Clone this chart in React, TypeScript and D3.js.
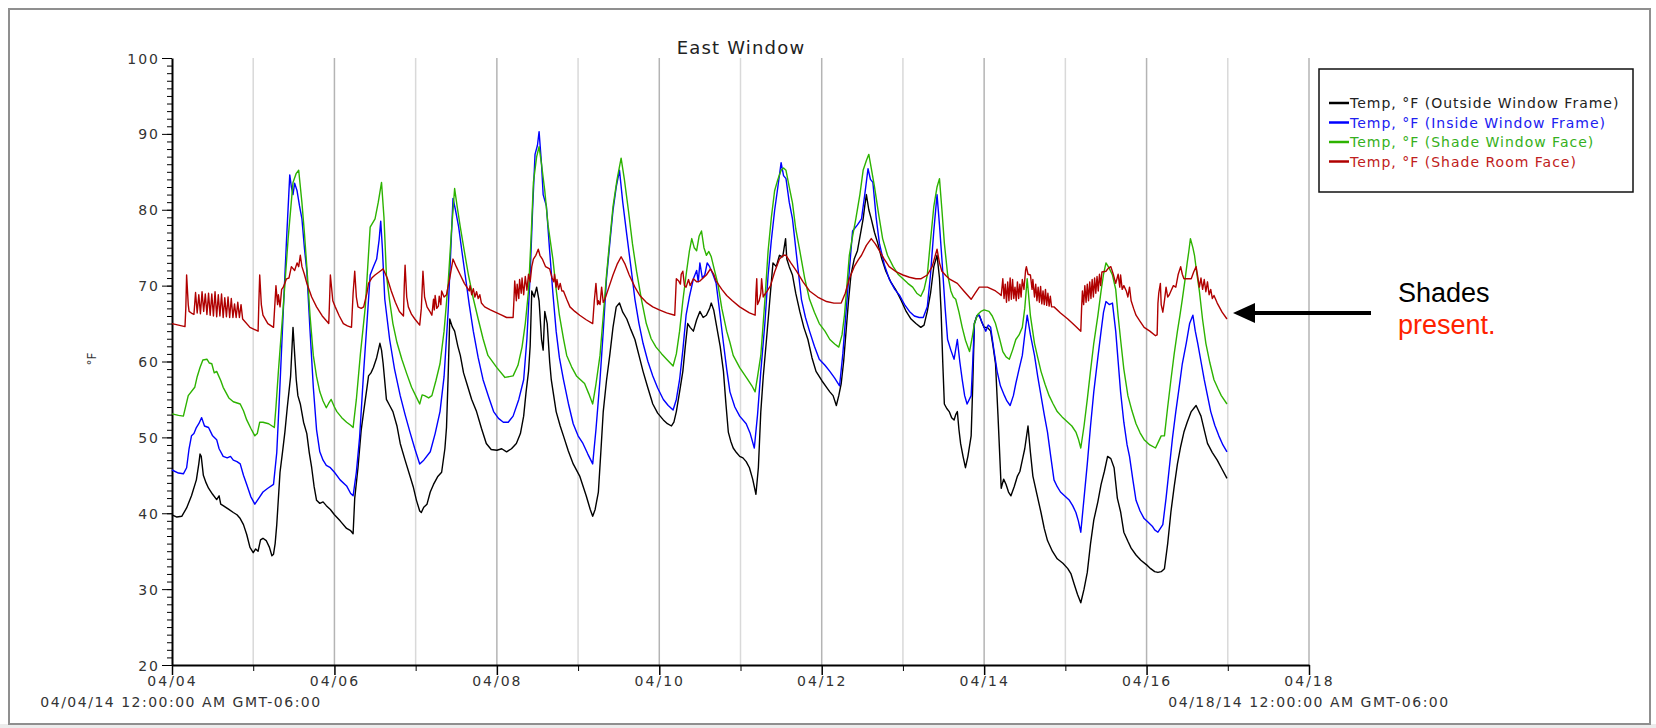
import React, { useEffect, useRef } from 'react'
import { select, scaleUtc, scaleLinear, line, axisLeft, axisBottom, utcFormat, range } from 'd3'

// start of the record, 04/04/14 00:00
const startMs = Date.UTC(2014, 3, 4)
const dayMs = 864e5

const seriesNames = [
  'Temp, °F (Outside Window Frame)',
  'Temp, °F (Inside Window Frame)',
  'Temp, °F (Shade Window Face)',
  'Temp, °F (Shade Room Face)',
]
const seriesColors = ['#000000', '#0000ff', '#2db300', '#b00000']
const legendColors = ['#222222', '#2020f0', '#35b020', '#c02020']

const yMajorTicks = [20, 30, 40, 50, 60, 70, 80, 90, 100]
const xMajorDays = [0, 2, 4, 6, 8, 10, 12, 14]
const xMinorDays = [1, 3, 5, 7, 9, 11, 13]
const edgeLabels = ['04/04/14 12:00:00 AM GMT-06:00', '04/18/14 12:00:00 AM GMT-06:00']

// [day since 04/04, °F]
const outsideFrame: [number, number][] = [
  [0,39.8],[0.06,39.5],[0.12,39.6],[0.18,40.7],[0.24,42.3],[0.30,44.4],[0.33,46.5],[0.345,47.8],[0.36,47.5],[0.386,45],[0.42,44],[0.45,43.3],[0.5,42.5],[0.55,41.8],[0.58,42.3],[0.6,41.2],[0.63,41],[0.7,40.5],[0.755,40.1],[0.8,39.8],[0.84,39.3],[0.88,38.5],[0.92,37.2],[0.96,35.5],[1.0,34.8],[1.03,35.3],[1.06,35],[1.09,36.5],[1.12,36.7],[1.16,36.4],[1.2,35.5],[1.23,34.4],[1.25,34.6],[1.27,36],[1.29,38.5],[1.33,45.4],[1.36,48],[1.39,50.7],[1.42,54],[1.44,56],[1.46,58],[1.49,64.5],[1.51,61],[1.53,57.6],[1.55,55.5],[1.58,54.4],[1.62,52],[1.66,50.5],[1.69,48],[1.72,46],[1.75,43.5],[1.78,41.7],[1.82,41.3],[1.86,41.5],[1.9,41],[1.95,40.5],[2.0,39.8],[2.07,39],[2.15,38],[2.2,37.7],[2.23,37.3],[2.25,42],[2.29,46],[2.33,51],[2.36,53.4],[2.4,56.5],[2.42,58.1],[2.45,58.5],[2.48,59.2],[2.52,60.5],[2.56,62.4],[2.58,61.5],[2.6,59.7],[2.64,55],[2.68,54.2],[2.72,53.4],[2.77,51.5],[2.81,49.2],[2.87,47],[2.93,44.9],[2.97,43.5],[3.01,41.7],[3.05,40.3],[3.07,40.1],[3.1,40.8],[3.14,41.2],[3.18,42.8],[3.22,43.8],[3.27,44.8],[3.32,45.4],[3.36,48.5],[3.38,51.3],[3.4,58],[3.42,65.6],[3.45,64.6],[3.48,64],[3.52,62],[3.55,60.8],[3.59,58.5],[3.63,57.1],[3.69,55],[3.75,53.4],[3.81,51.2],[3.87,49.2],[3.93,48.4],[4.0,48.3],[4.06,48.5],[4.12,48.1],[4.18,48.5],[4.24,49.2],[4.29,50.5],[4.33,52.8],[4.36,56],[4.39,58.7],[4.41,62],[4.43,69.3],[4.46,68.5],[4.49,69.8],[4.52,68],[4.55,62.9],[4.57,61.5],[4.59,66.6],[4.62,65],[4.65,60],[4.67,57.6],[4.7,55.5],[4.73,53.4],[4.78,51.5],[4.82,50.2],[4.88,48.2],[4.94,46.5],[5.02,44.9],[5.1,42.3],[5.15,40.5],[5.18,39.6],[5.21,40.5],[5.25,42.8],[5.28,48],[5.31,53.4],[5.35,57.5],[5.39,60.8],[5.43,64.5],[5.47,67.2],[5.51,67.7],[5.55,66.5],[5.6,65.6],[5.65,64.2],[5.7,62.9],[5.75,60.8],[5.8,58.7],[5.86,56.5],[5.92,54.4],[5.98,53.2],[6.05,52.3],[6.1,51.8],[6.15,51.5],[6.18,52],[6.21,53.4],[6.25,56],[6.29,58.7],[6.32,62],[6.35,65],[6.38,64.5],[6.42,64],[6.46,65.5],[6.5,66.6],[6.54,65.8],[6.58,66.1],[6.62,67],[6.64,67.7],[6.67,66.8],[6.7,65],[6.75,62],[6.79,58.7],[6.82,54.5],[6.85,50.7],[6.88,49.5],[6.91,48.6],[6.95,48],[6.99,47.5],[7.03,47.3],[7.07,46.8],[7.11,46],[7.15,44.5],[7.19,42.5],[7.22,46],[7.25,53.4],[7.28,58],[7.32,62.9],[7.36,68],[7.4,73],[7.44,72.5],[7.48,74],[7.52,73.8],[7.555,76.2],[7.57,73.5],[7.6,72.5],[7.64,71.4],[7.68,69],[7.73,66.6],[7.78,64.5],[7.83,62.9],[7.88,60.5],[7.93,58.7],[8.0,57.5],[8.06,56.6],[8.1,56],[8.14,55.5],[8.18,54.2],[8.21,55.5],[8.24,57.1],[8.27,60],[8.3,64],[8.33,68],[8.36,71.4],[8.4,73.5],[8.44,74.6],[8.48,77],[8.51,78.8],[8.53,80.5],[8.55,82],[8.58,80],[8.61,78.8],[8.65,77],[8.69,75.6],[8.74,73.5],[8.79,71.9],[8.85,70.5],[8.92,69.3],[8.98,68],[9.04,66.6],[9.1,65.6],[9.16,65],[9.22,64.5],[9.26,64.8],[9.3,66.6],[9.34,69],[9.38,72.5],[9.42,74],[9.45,71],[9.47,66.6],[9.49,60],[9.51,54.4],[9.54,53.8],[9.57,53.4],[9.6,52.6],[9.63,52.3],[9.65,53],[9.67,53.4],[9.69,51],[9.71,49.2],[9.74,47.5],[9.77,46],[9.8,47.5],[9.84,50.2],[9.86,57],[9.88,65],[9.91,66],[9.94,66.1],[9.97,65.2],[10.0,64.5],[10.04,64.5],[10.08,64],[10.11,62],[10.14,59.7],[10.17,53],[10.21,43.3],[10.24,44.5],[10.27,43.8],[10.3,42.8],[10.33,42.3],[10.37,43.5],[10.41,44.9],[10.44,45.5],[10.47,47],[10.5,48.5],[10.52,50],[10.54,51.5],[10.57,48],[10.6,44.9],[10.65,42.5],[10.7,40.1],[10.74,38],[10.78,36.4],[10.84,35],[10.9,34],[10.97,33.4],[11.03,32.7],[11.07,32],[11.11,30.6],[11.15,29.3],[11.19,28.2],[11.23,30],[11.27,32.2],[11.31,36],[11.35,39.1],[11.4,41.5],[11.44,43.8],[11.48,45.5],[11.52,47.5],[11.56,47.2],[11.6,46],[11.64,42],[11.68,40.2],[11.72,37.5],[11.77,36.3],[11.81,35.4],[11.87,34.5],[11.93,33.8],[12.0,33.2],[12.05,32.7],[12.1,32.3],[12.14,32.2],[12.18,32.3],[12.22,32.7],[12.26,36],[12.3,40.2],[12.34,43.5],[12.38,46.5],[12.42,48.8],[12.46,50.7],[12.5,52],[12.55,53.4],[12.58,53.8],[12.61,54.2],[12.64,53.5],[12.67,52.8],[12.71,51],[12.75,49.2],[12.81,48],[12.87,47],[12.93,45.8],[12.99,44.6],
]

const insideFrame: [number, number][] = [
  [0,45.7],[0.08,45.3],[0.14,45.2],[0.18,46],[0.21,48.5],[0.24,50.2],[0.27,50.5],[0.30,51.3],[0.33,51.8],[0.365,52.6],[0.4,51.5],[0.45,51.3],[0.5,50.2],[0.55,49.7],[0.58,48.5],[0.63,47.5],[0.68,47.3],[0.72,47.5],[0.755,47],[0.8,46.8],[0.84,46.5],[0.88,45],[0.92,43.8],[0.97,42.2],[1.02,41.2],[1.07,42],[1.12,42.8],[1.18,43.3],[1.25,43.8],[1.29,48],[1.33,57],[1.37,66.6],[1.41,76],[1.45,84.6],[1.47,83],[1.49,82],[1.51,83.5],[1.54,82.5],[1.57,80.5],[1.60,78.8],[1.63,75],[1.66,71.9],[1.70,64],[1.74,56.6],[1.78,51],[1.82,48.1],[1.86,47],[1.9,46.3],[1.95,46],[2.0,45.4],[2.07,44.4],[2.15,43.6],[2.2,42.6],[2.23,42.3],[2.27,45.4],[2.31,50],[2.36,58.7],[2.40,65],[2.44,71.4],[2.48,72.5],[2.52,73.5],[2.55,76],[2.57,78.5],[2.59,75],[2.62,68.2],[2.68,62.9],[2.74,59],[2.81,55.5],[2.87,53],[2.93,50.7],[2.99,48.5],[3.05,46.5],[3.1,47],[3.18,48.1],[3.24,50.5],[3.3,53.4],[3.35,58],[3.4,66.6],[3.43,74],[3.46,81.5],[3.49,80],[3.53,77.7],[3.57,74.5],[3.61,71.4],[3.66,67.5],[3.71,64],[3.77,60.5],[3.83,57.6],[3.9,55.3],[3.96,53.4],[4.02,52.5],[4.08,52],[4.14,52],[4.2,52.8],[4.27,55],[4.33,57.6],[4.37,63],[4.41,71.4],[4.44,80],[4.47,87.3],[4.5,88.5],[4.52,90.3],[4.55,86],[4.57,82],[4.61,80.5],[4.65,74.6],[4.69,69],[4.73,64],[4.77,60.5],[4.82,57.6],[4.88,54.5],[4.94,51.8],[5.0,50.2],[5.06,49.2],[5.12,47.8],[5.18,46.5],[5.22,51],[5.27,57.6],[5.31,64],[5.35,70.9],[5.39,75.5],[5.43,79.9],[5.47,83],[5.51,85.2],[5.55,81],[5.6,76.7],[5.65,72.5],[5.7,68.2],[5.75,65],[5.8,62.4],[5.86,60],[5.92,58.1],[5.98,56.5],[6.05,55],[6.11,54.2],[6.17,53.6],[6.21,55],[6.25,57.6],[6.29,61.5],[6.33,66.1],[6.37,68.5],[6.42,70.9],[6.46,72],[6.48,70.5],[6.5,73],[6.53,71],[6.56,71.4],[6.59,73],[6.62,72.5],[6.66,71.5],[6.7,70.3],[6.75,66],[6.79,62.4],[6.83,59],[6.87,56],[6.93,54],[6.99,52.8],[7.07,51.8],[7.12,50.5],[7.17,48.6],[7.21,53],[7.25,58.7],[7.3,65],[7.34,71.4],[7.38,76],[7.42,79.9],[7.46,83],[7.5,86.2],[7.53,84.5],[7.56,84.1],[7.6,81],[7.64,78.8],[7.7,73],[7.75,68.2],[7.8,65.8],[7.85,64],[7.91,62],[7.97,60.3],[8.04,59.5],[8.1,58.7],[8.16,57.8],[8.22,56.8],[8.26,61],[8.3,66.6],[8.34,72],[8.38,77.2],[8.44,78],[8.49,78.8],[8.53,82],[8.57,85.4],[8.6,84],[8.63,83.6],[8.67,79],[8.71,75.6],[8.77,72.8],[8.83,70.9],[8.9,69.5],[8.96,68.7],[9.02,67.5],[9.08,66.6],[9.14,66],[9.2,65.8],[9.25,65.8],[9.3,67.2],[9.34,71.5],[9.38,77.2],[9.42,82],[9.45,78],[9.48,73.5],[9.52,67],[9.55,62.9],[9.59,61.5],[9.63,60.3],[9.67,62.9],[9.7,60],[9.73,57.6],[9.76,55.5],[9.79,54.4],[9.84,55.5],[9.86,60],[9.88,65],[9.91,66],[9.94,66.1],[9.98,65],[10.02,64],[10.05,64.8],[10.08,64.5],[10.12,61.5],[10.16,58.7],[10.2,56.8],[10.25,55.5],[10.28,54.8],[10.32,54.2],[10.36,55.5],[10.39,57.1],[10.43,59],[10.47,60.8],[10.5,63.5],[10.53,66.1],[10.57,63.5],[10.62,60.8],[10.66,58],[10.7,55.5],[10.74,53],[10.78,50.7],[10.82,47.5],[10.86,44.4],[10.9,43.5],[10.94,42.8],[11.0,42.2],[11.05,41.7],[11.09,41],[11.13,40.1],[11.16,39],[11.19,37.5],[11.23,42],[11.27,46.5],[11.31,51.5],[11.35,56],[11.4,60.5],[11.44,64],[11.47,66.5],[11.5,67.9],[11.54,67.5],[11.58,67.7],[11.62,64],[11.65,60],[11.68,56],[11.72,52],[11.76,49],[11.79,47.5],[11.83,44.5],[11.87,41.7],[11.92,40.3],[11.97,39.3],[12.02,38.8],[12.07,38.3],[12.1,37.8],[12.14,37.5],[12.17,38],[12.2,38.5],[12.24,42],[12.28,46],[12.32,50],[12.36,53.4],[12.4,56.5],[12.44,59.7],[12.49,62.5],[12.53,65],[12.57,66.1],[12.6,64],[12.63,62.4],[12.67,60],[12.71,57.6],[12.75,55.5],[12.79,53.4],[12.84,51.6],[12.89,50.2],[12.94,49],[12.99,48.1],
]

const shadeWindowFace: [number, number][] = [
  [0,53.1],[0.08,52.9],[0.14,52.8],[0.2,55.5],[0.28,56.6],[0.31,58],[0.345,59.2],[0.38,60.2],[0.43,60.3],[0.46,59.8],[0.49,59.7],[0.52,58.5],[0.55,58.7],[0.6,57.5],[0.63,56.6],[0.7,55.2],[0.755,54.7],[0.84,54.4],[0.88,53.5],[0.92,52.3],[0.97,51.2],[1.02,50.2],[1.05,50.5],[1.08,52],[1.12,52],[1.19,51.8],[1.26,51.3],[1.28,54],[1.31,58.7],[1.37,67.2],[1.43,76.2],[1.49,83.6],[1.53,84.8],[1.56,85.2],[1.6,80.9],[1.63,77],[1.66,72.5],[1.7,66],[1.74,60.8],[1.78,58],[1.82,56],[1.86,54.8],[1.9,53.9],[1.93,54.5],[1.96,55],[2.0,54],[2.03,53.4],[2.09,52.6],[2.15,52],[2.2,51.6],[2.23,51.3],[2.27,55],[2.32,61],[2.38,67.2],[2.44,77.7],[2.5,78.8],[2.54,81],[2.58,83.6],[2.61,79],[2.64,71.4],[2.68,68],[2.72,65],[2.77,62.5],[2.83,60.3],[2.89,58.4],[2.95,56.6],[3.0,55.5],[3.05,54.4],[3.08,55.6],[3.11,55.5],[3.16,55.2],[3.2,55.5],[3.25,57.5],[3.3,59.7],[3.35,64],[3.4,70.3],[3.44,77],[3.48,82.8],[3.51,80.5],[3.55,77.7],[3.6,74.5],[3.65,71.4],[3.71,68.3],[3.77,65.6],[3.83,63],[3.89,60.8],[4.0,59.2],[4.1,57.9],[4.2,58.1],[4.26,59.5],[4.31,61.9],[4.35,65],[4.39,69.3],[4.42,76],[4.45,83.6],[4.49,87],[4.52,88.3],[4.55,86],[4.59,82.5],[4.63,78],[4.69,73.5],[4.73,69.5],[4.77,66.1],[4.82,63],[4.86,60.8],[4.92,59.3],[4.98,58.1],[5.08,57.1],[5.13,55.8],[5.18,54.4],[5.22,57],[5.27,60.8],[5.31,66],[5.35,71.4],[5.39,76],[5.43,80.4],[5.48,84],[5.53,86.8],[5.57,84],[5.62,79.9],[5.67,75.5],[5.72,71.9],[5.78,68.2],[5.84,65],[5.9,63],[5.96,61.9],[6.03,61],[6.09,60.3],[6.17,59.4],[6.21,61],[6.25,64],[6.29,68],[6.33,71.4],[6.37,74.5],[6.4,76.2],[6.43,75],[6.46,74.6],[6.49,76.5],[6.52,77.2],[6.55,75],[6.58,74],[6.61,74.5],[6.64,73.8],[6.68,72],[6.72,70.3],[6.77,67],[6.83,64],[6.87,62.5],[6.91,60.8],[6.99,59.2],[7.09,57.6],[7.14,56.8],[7.18,56],[7.21,58],[7.25,60.8],[7.3,68],[7.34,74.6],[7.38,79],[7.42,82.5],[7.46,84],[7.5,85.2],[7.53,85.5],[7.56,85.2],[7.6,83],[7.64,80.9],[7.68,77.5],[7.73,74.6],[7.79,71],[7.85,68.2],[7.91,66.5],[7.97,65],[8.04,64],[8.1,62.9],[8.16,62.3],[8.21,61.9],[8.25,63.5],[8.28,66.1],[8.31,70],[8.34,74],[8.38,76.5],[8.42,78.8],[8.47,82],[8.51,85.2],[8.55,86.5],[8.58,87.3],[8.61,85.5],[8.65,83],[8.7,79.5],[8.75,76.2],[8.81,74],[8.88,72.5],[8.94,71.5],[9.0,70.9],[9.06,70.3],[9.12,69.8],[9.17,69],[9.22,68.6],[9.26,69.5],[9.3,71.4],[9.34,76],[9.38,80.4],[9.42,83],[9.45,84.1],[9.48,80],[9.51,75.6],[9.55,71.5],[9.59,69.3],[9.62,68.5],[9.65,68.2],[9.69,66.5],[9.73,64.5],[9.77,62.8],[9.82,61.3],[9.85,63],[9.88,65],[9.92,66.2],[9.96,66.6],[10.0,66.8],[10.06,66.6],[10.1,66],[10.14,65],[10.19,63],[10.23,61.3],[10.27,60.6],[10.31,60.3],[10.35,61.5],[10.39,62.9],[10.43,63.5],[10.47,64.5],[10.5,67],[10.53,70.9],[10.57,66],[10.62,62.4],[10.66,60.5],[10.7,58.7],[10.75,57],[10.8,55.5],[10.85,54.4],[10.9,53.4],[10.96,52.7],[11.03,52],[11.08,51.5],[11.13,50.7],[11.16,49.8],[11.19,48.6],[11.23,51.5],[11.27,55],[11.31,58.8],[11.35,62.4],[11.4,66],[11.44,69.3],[11.47,71.5],[11.5,73],[11.54,72.3],[11.58,71.4],[11.62,69.5],[11.65,66],[11.68,62.9],[11.72,59],[11.77,55.5],[11.82,53.5],[11.87,51.8],[11.92,50.6],[11.97,49.7],[12.04,49],[12.11,48.6],[12.15,49.5],[12.18,50.2],[12.22,50.2],[12.26,54],[12.3,57.6],[12.34,61],[12.38,64],[12.41,66],[12.44,68.2],[12.47,70.5],[12.5,73],[12.52,74.5],[12.54,76.2],[12.57,75],[12.59,74],[12.62,71.5],[12.65,69.3],[12.69,65.5],[12.73,62.4],[12.78,59.8],[12.83,57.6],[12.88,56.4],[12.92,55.5],[12.99,54.4],
]

const shadeRoomFace: [number, number][] = [
  [0,65],[0.08,64.8],[0.16,64.6],[0.17,67],[0.18,71.4],[0.2,67.5],[0.21,66.6],[0.25,66.3],[0.27,66.2],
  [0.29,69.1],[0.31,66.4],[0.33,68.8],[0.35,66.3],[0.37,69.2],[0.39,66.6],[0.41,68.9],[0.43,66.2],[0.45,69],[0.47,66.1],[0.49,68.9],[0.51,66],[0.53,69.2],[0.55,65.9],[0.57,68.8],[0.59,66],[0.61,68.9],[0.63,65.8],[0.65,68.4],[0.67,65.9],[0.69,68.5],[0.71,65.8],[0.73,68.3],[0.75,65.8],[0.77,67.6],[0.79,65.8],[0.81,67.8],[0.83,65.8],[0.85,67.5],[0.87,65.6],
  [0.96,64.5],[1.06,64],[1.07,68],[1.08,71.4],[1.1,67.5],[1.12,66.1],[1.18,65],[1.25,64.5],[1.28,70],[1.3,67.5],[1.31,68.8],[1.33,67.2],[1.35,69.5],[1.37,69.8],[1.41,70.9],[1.44,71],[1.47,72.5],[1.51,72],[1.54,73],[1.56,72.5],[1.58,74],[1.6,72.5],[1.63,71.5],[1.66,70.3],[1.72,68.5],[1.78,67.2],[1.85,66],[1.93,65],[1.94,68],[1.95,71.4],[1.98,68],[2.01,67.2],[2.06,66],[2.11,65],[2.16,64.7],[2.21,64.5],[2.23,69],[2.25,71.9],[2.27,68.5],[2.29,67.2],[2.33,67],[2.36,67.2],[2.4,69],[2.42,70.3],[2.46,71],[2.5,71.4],[2.55,71.8],[2.6,72.2],[2.65,71],[2.7,69.3],[2.75,67.8],[2.8,66.6],[2.85,66],[2.86,70],[2.87,72.7],[2.89,68.5],[2.91,67.2],[2.95,66.2],[2.99,65.6],[3.05,64.8],[3.07,67],[3.09,71.9],[3.11,68.5],[3.14,67.2],[3.18,66.5],[3.2,66.1],[3.22,68.2],[3.23,66.8],[3.24,68.7],[3.26,67],[3.28,67.3],[3.29,68.6],[3.31,67.5],[3.32,69.3],[3.35,68.5],[3.38,68.8],[3.42,71],[3.46,73.5],[3.5,72.5],[3.55,71.4],[3.6,70.3],[3.63,69.8],[3.66,69.3],[3.67,70],[3.69,68.8],[3.71,69.6],[3.73,68.5],[3.75,69.2],[3.77,68.3],[3.79,68.8],[3.81,67.7],[3.85,67.2],[3.92,66.8],[4.0,66.4],[4.06,66.1],[4.12,65.8],[4.2,65.8],
  [4.21,68],[4.22,70.6],[4.24,68],[4.25,70.2],[4.27,68.3],[4.28,70.8],[4.3,69],[4.31,71],[4.33,68.8],[4.35,71.2],[4.37,69.4],[4.39,71.5],[4.41,70.5],[4.43,72.5],[4.45,73.5],[4.48,74],[4.51,74.8],[4.53,74],[4.56,73.5],[4.6,72.5],[4.65,72.2],[4.68,71],[4.7,70.5],[4.71,71.5],[4.73,69.8],[4.74,70.8],[4.76,69.5],[4.78,70.3],[4.8,69.3],[4.82,69.3],[4.86,68.2],[4.9,67.2],[4.96,66.6],[5.02,66.1],[5.1,65.5],[5.18,65],[5.2,68],[5.22,70.3],[5.24,67.5],[5.25,68],[5.27,67.5],[5.29,69.8],[5.31,67.8],[5.33,68.2],[5.38,69.8],[5.43,71.4],[5.48,72.8],[5.53,73.8],[5.58,72.8],[5.63,71.4],[5.7,69.8],[5.76,68.7],[5.84,67.8],[5.92,67.2],[6.0,66.8],[6.09,66.4],[6.19,66.1],[6.2,68.5],[6.21,70.9],[6.24,70.6],[6.26,70.2],[6.27,71.5],[6.29,71.9],[6.31,70],[6.33,69.8],[6.36,70.8],[6.38,70],[6.42,70.9],[6.46,70.5],[6.5,70.6],[6.54,71],[6.58,71.4],[6.63,72.2],[6.67,71.5],[6.7,70.6],[6.77,69.5],[6.83,68.7],[6.9,68],[6.99,67.2],[7.05,66.8],[7.11,66.4],[7.18,66.1],[7.19,69],[7.2,70.9],[7.21,67.5],[7.23,68],[7.25,69],[7.26,70.9],[7.28,68.5],[7.29,68.7],[7.33,69.3],[7.37,70],[7.42,71.8],[7.48,73.5],[7.53,74],[7.56,74],[7.62,73],[7.69,71.9],[7.77,70.5],[7.85,69.3],[7.95,68.5],[8.06,67.9],[8.15,67.7],[8.24,67.7],[8.29,69],[8.34,70.9],[8.4,72.5],[8.45,73.4],[8.49,74],[8.55,75.3],[8.61,76.2],[8.66,75.5],[8.71,74.6],[8.77,73.5],[8.83,72.5],[8.92,71.8],[9.0,71.4],[9.08,71.1],[9.16,70.9],[9.22,70.9],[9.3,71.4],[9.36,72.5],[9.42,74.8],[9.45,73],[9.48,71.9],[9.53,71.3],[9.57,70.9],[9.62,70.6],[9.67,70.3],[9.75,69.3],[9.84,68.2],[9.89,69],[9.94,69.8],[10.0,69.8],[10.04,69.8],[10.1,69.5],[10.14,69.3],[10.19,68.9],[10.21,68.7],
  [10.23,70.9],[10.245,68.3],[10.26,70.2],[10.275,67.8],[10.29,70.5],[10.305,68],[10.32,71],[10.335,68.2],[10.35,70.8],[10.365,68.3],[10.38,69.8],[10.395,68],[10.41,70.5],[10.425,68.3],[10.44,70.2],[10.455,68.5],[10.47,70.8],[10.49,69.5],[10.51,72],[10.52,72.5],[10.54,71.5],[10.57,71.4],[10.59,69.5],[10.6,70.8],[10.62,68.5],[10.635,70.2],[10.65,68],[10.665,69.8],[10.68,67.8],[10.695,69.9],[10.71,67.6],[10.725,69.3],[10.74,67.5],[10.755,69.5],[10.77,67.4],[10.785,69],[10.8,67.3],[10.815,68.6],[10.83,67.2],[10.86,67.2],[10.94,66.4],[11.03,65.6],[11.11,64.8],[11.19,64],
  [11.2,67],[11.21,69.3],[11.225,67.5],[11.24,70],[11.255,67.8],[11.27,70.2],[11.285,68],[11.3,70.5],[11.315,68.3],[11.33,70.8],[11.345,68.5],[11.36,71],[11.375,69],[11.39,71.2],[11.405,69.3],[11.42,71.5],[11.435,70],[11.45,71.8],[11.5,71.9],[11.53,72.3],[11.56,72.5],[11.59,71.5],[11.62,70.3],[11.65,71.5],[11.67,69.8],[11.68,71.4],[11.7,69.5],[11.72,70],[11.75,69.3],[11.77,68.5],[11.79,69.8],[11.81,68],[11.84,67],[11.87,66.1],[11.92,65.3],[11.97,64.5],[12.04,64],[12.11,63.4],[12.13,63.5],
  [12.14,67.7],[12.15,69],[12.17,70.3],[12.18,67.5],[12.2,66.5],[12.22,68],[12.24,69.8],[12.26,68.5],[12.28,68.8],[12.3,69.3],[12.33,70],[12.36,69.8],[12.39,71.5],[12.42,72.5],[12.44,71.5],[12.46,70.9],[12.5,70.9],[12.55,70.9],[12.58,71.8],[12.61,72.5],[12.63,71.2],[12.65,69.8],[12.67,71],[12.69,69.5],[12.71,70.8],[12.73,69.2],[12.75,70.5],[12.77,68.8],[12.79,69.5],[12.81,68.3],[12.83,68.7],[12.87,67.7],[12.93,66.5],[12.99,65.6],
]

const allSeries = [outsideFrame, insideFrame, shadeWindowFace, shadeRoomFace]

const W = 1656
const H = 728
const plot = { left: 172, right: 1309, top: 58, bottom: 665 }
const axisFont = '"DejaVu Sans", sans-serif'

function EastWindowChart() {
  const ref = useRef<SVGSVGElement>(null)

  useEffect(() => {
    const svg = select(ref.current)
    svg.selectAll('*').remove()

    const toDate = (d: number) => new Date(startMs + d * dayMs)

    const x = scaleUtc()
      .domain([toDate(0), toDate(14)])
      .range([plot.left, plot.right])
    const y = scaleLinear().domain([20, 100]).range([plot.bottom, plot.top])

    // window frame
    svg.append('rect')
      .attr('x', 0).attr('y', 724).attr('width', W).attr('height', 4)
      .attr('fill', '#ececec')
    svg.append('rect')
      .attr('x', 9).attr('y', 9).attr('width', 1641).attr('height', 715)
      .attr('fill', '#fff').attr('stroke', '#8f8f8f').attr('stroke-width', 2)

    // day gridlines
    svg.append('g')
      .selectAll('line')
      .data(range(1, 15))
      .join('line')
      .attr('x1', d => x(toDate(d))).attr('x2', d => x(toDate(d)))
      .attr('y1', plot.top).attr('y2', plot.bottom)
      .attr('stroke', d => (d % 2 === 0 ? '#b4b4b4' : '#d9d9d9'))
      .attr('stroke-width', 1.5)

    // title
    svg.append('text')
      .attr('x', 741).attr('y', 54)
      .attr('text-anchor', 'middle')
      .style('font-family', axisFont).style('font-size', '18px').style('letter-spacing', '1.2px')
      .attr('fill', '#222')
      .text('East Window')

    // y axis
    svg.append('g')
      .attr('transform', `translate(${plot.left},0)`)
      .call(axisLeft(y).tickValues(range(20, 101, 1)).tickSize(5).tickSizeOuter(0).tickFormat(() => ''))
      .call(g => g.select('.domain').remove())
    const yAxis = svg.append('g')
      .attr('transform', `translate(${plot.left},0)`)
      .call(axisLeft(y).tickValues(yMajorTicks).tickSize(10).tickSizeOuter(0).tickPadding(2))
    yAxis.select('.domain').attr('stroke-width', 2)
    yAxis.selectAll('text')
      .style('font-family', axisFont).style('font-size', '14px').style('letter-spacing', '2px')
      .attr('fill', '#333').attr('dy', '0.36em')

    svg.append('text')
      .attr('transform', 'translate(96,359) rotate(-90)')
      .attr('text-anchor', 'middle')
      .style('font-family', axisFont).style('font-size', '12px')
      .attr('fill', '#333')
      .text('°F')

    // x axis
    svg.append('g')
      .attr('transform', `translate(0,${plot.bottom})`)
      .call(axisBottom(x).tickValues(xMinorDays.map(toDate)).tickSize(6).tickSizeOuter(0).tickFormat(() => ''))
      .call(g => g.select('.domain').remove())
    const xAxis = svg.append('g')
      .attr('transform', `translate(0,${plot.bottom})`)
      .call(axisBottom(x).tickValues(xMajorDays.map(toDate)).tickSize(10).tickSizeOuter(0)
        .tickFormat(d => utcFormat('%m/%d')(d as Date)).tickPadding(1))
    xAxis.select('.domain').attr('stroke-width', 2)
    xAxis.selectAll('.tick line').attr('stroke-width', 1.5)
    xAxis.selectAll('text')
      .style('font-family', axisFont).style('font-size', '14px').style('letter-spacing', '2px')
      .attr('fill', '#333')

    // first/last timestamps; the left one is nudged in from the frame edge
    svg.append('g')
      .selectAll('text')
      .data(edgeLabels)
      .join('text')
      .attr('x', (d, i) => (i === 0 ? x(toDate(0)) + 9 : x(toDate(14))))
      .attr('y', 707)
      .attr('text-anchor', 'middle')
      .style('font-family', axisFont).style('font-size', '14px').style('letter-spacing', '1.5px')
      .attr('fill', '#333')
      .text(d => d)

    // series
    const pathGen = line<[number, number]>()
      .x(d => x(toDate(d[0])))
      .y(d => y(d[1]))
    svg.append('g')
      .selectAll('path')
      .data(allSeries)
      .join('path')
      .attr('d', d => pathGen(d))
      .attr('fill', 'none')
      .attr('stroke', (d, i) => seriesColors[i])
      .attr('stroke-width', 1.4)
      .attr('stroke-linejoin', 'round')

    // legend
    const legend = svg.append('g')
    legend.append('rect')
      .attr('x', 1319).attr('y', 69).attr('width', 314).attr('height', 123)
      .attr('fill', '#fff').attr('stroke', '#111').attr('stroke-width', 1.5)
    const items = legend.selectAll('g.item')
      .data(seriesNames)
      .join('g')
      .attr('class', 'item')
      .attr('transform', (d, i) => `translate(1329,${102 + i * 19.5})`)
    items.append('line')
      .attr('x1', 0).attr('x2', 20).attr('y1', 1).attr('y2', 1)
      .attr('stroke', (d, i) => seriesColors[i]).attr('stroke-width', 2.5)
    items.append('text')
      .attr('x', 21).attr('y', 6)
      .style('font-family', axisFont).style('font-size', '14px').style('letter-spacing', '1px')
      .attr('fill', (d, i) => legendColors[i])
      .text(d => d)

    // annotation
    svg.append('line')
      .attr('x1', 1250).attr('x2', 1371).attr('y1', 313).attr('y2', 313)
      .attr('stroke', '#000').attr('stroke-width', 4)
    svg.append('path')
      .attr('d', 'M1233,313 L1255,303 L1255,323 Z')
      .attr('fill', '#000')
    svg.append('text')
      .attr('x', 1398).attr('y', 302)
      .style('font-family', '"Liberation Sans", Arial, sans-serif').style('font-size', '27px')
      .attr('fill', '#000')
      .text('Shades')
    svg.append('text')
      .attr('x', 1398).attr('y', 334)
      .style('font-family', '"Liberation Sans", Arial, sans-serif').style('font-size', '27px')
      .attr('fill', '#ff2200')
      .text('present.')
  }, [])

  return <svg ref={ref} width={W} height={H} style={{ display: 'block' }} />
}

export default function App() {
  return (
    <div style={{ position: 'absolute', left: 0, top: 0, background: '#fff' }}>
      <EastWindowChart />
    </div>
  )
}
